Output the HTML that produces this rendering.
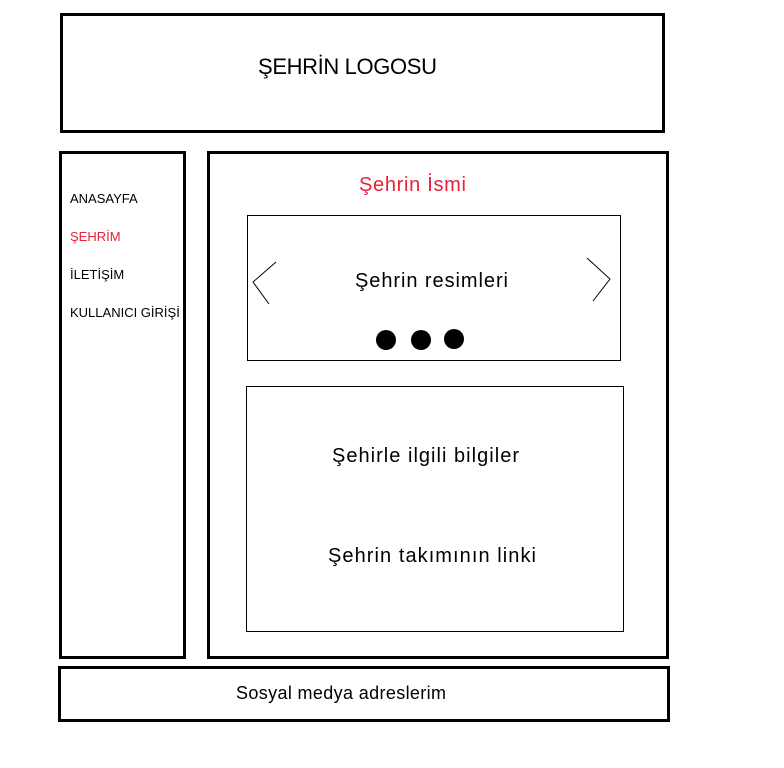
<!DOCTYPE html>
<html><head><meta charset="utf-8"><style>
html,body{margin:0;padding:0;background:#fff;}
svg{display:block;font-family:"Liberation Sans","DejaVu Sans",sans-serif;}
</style></head><body>
<svg width="784" height="768" viewBox="0 0 784 768">
<rect x="0" y="0" width="784" height="768" fill="#fff"/>
<g>
<rect x="61.5" y="14.5" width="602" height="117" fill="none" stroke="#000" stroke-width="3"/>
<text x="258" y="74" font-size="22" textLength="179" fill="#000">ŞEHRİN LOGOSU</text>
</g>
<g>
<rect x="60.5" y="152.5" width="124" height="505" fill="none" stroke="#000" stroke-width="3"/>
<text x="70" y="203" font-size="13" fill="#000">ANASAYFA</text>
<text x="70" y="241" font-size="13" fill="#e8203a">ŞEHRİM</text>
<text x="70" y="279" font-size="13" fill="#000">İLETİŞİM</text>
<text x="70" y="317" font-size="13" fill="#000">KULLANICI GİRİŞİ</text>
</g>
<g>
<rect x="208.5" y="152.5" width="459" height="505" fill="none" stroke="#000" stroke-width="3"/>
<text x="359" y="191" font-size="20" textLength="107" fill="#e8203a">Şehrin İsmi</text>
</g>
<g>
<rect x="247.5" y="215.5" width="373" height="145" fill="none" stroke="#000" stroke-width="1"/>
<text x="355" y="287" font-size="20" textLength="153" fill="#000">Şehrin resimleri</text>
<polyline points="276,262 253,282 269,304" fill="none" stroke="#000" stroke-width="1"/>
<polyline points="587,258 610,279 593,301" fill="none" stroke="#000" stroke-width="1"/>
<circle cx="386" cy="340" r="10" fill="#000"/>
<circle cx="421" cy="340" r="10" fill="#000"/>
<circle cx="454" cy="339" r="10" fill="#000"/>
</g>
<g>
<rect x="246.5" y="386.5" width="377" height="245" fill="none" stroke="#000" stroke-width="1"/>
<text x="332" y="462" font-size="20" textLength="187" fill="#000">Şehirle ilgili bilgiler</text>
<text x="328" y="562" font-size="20" textLength="208" fill="#000">Şehrin takımının linki</text>
</g>
<g>
<rect x="59.5" y="667.5" width="609" height="53" fill="none" stroke="#000" stroke-width="3"/>
<text x="236" y="699" font-size="18" textLength="210" fill="#000">Sosyal medya adreslerim</text>
</g>
</svg>
</body></html>
